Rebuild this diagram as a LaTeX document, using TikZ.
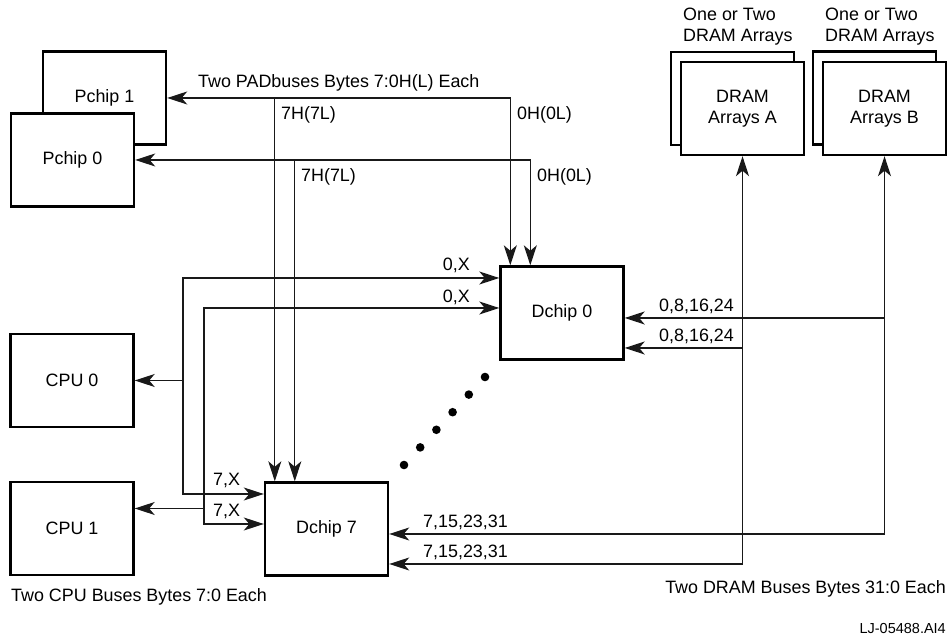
\documentclass[tikz,border=0pt]{standalone}
\usepackage{fontspec}
\setmainfont{Liberation Sans}
\usetikzlibrary{arrows.meta}
\newcommand\busfont{\fontsize{17.9}{21}\selectfont}
\newcommand\tagfont{\fontsize{14.5}{17}\selectfont}

\begin{document}
\begin{tikzpicture}[x=1pt,y=1pt,line join=miter,
  box/.style={draw,line width=2.4pt,fill=white,minimum width=123pt,minimum height=93pt,inner sep=0pt,align=center,font=\busfont},
  bus/.style={draw=black!90,line width=1.2pt},
  onetip/.style={-{Stealth[length=20pt,width=13pt,inset=5.5pt]}},
  twotips/.style={{Stealth[length=20pt,width=13pt,inset=5.5pt]}-{Stealth[length=20pt,width=13pt,inset=5.5pt]}},
  lbl/.style={font=\busfont,inner sep=0pt}]
\useasboundingbox (0,0) rectangle (949,636);
% chips
\node[box] (pchipone) at (104.5,538) {Pchip 1};
\node[box] (pchipzero) at (72.5,476) {Pchip 0};
\node[box] (cpuzero) at (72,255.5) {CPU 0};
\node[box] (cpuone) at (72,107.5) {CPU 1};
\node[box] (dchipzero) at (562,323) {Dchip 0};
\node[box] (dchipseven) at (326.5,107) {Dchip 7};
% DRAM arrays, one behind the other
\node[box] (dramaback) at (732.5,537.5) {};
\node[box] (drama) at (742.5,527.5) {DRAM\\Arrays A};
\node[box] (drambback) at (874.5,538) {};
\node[box] (dramb) at (884.5,527.5) {DRAM\\Arrays B};
% tap points
\coordinate (cpubusa) at (183,0);
\coordinate (cpubusb) at (204,0);
\coordinate (dzerotopa) at ([xshift=11pt]dchipzero.north west);
\coordinate (dzerotopb) at ([xshift=31pt]dchipzero.north west);
\coordinate (dsevtopa) at ([xshift=11pt]dchipseven.north west);
\coordinate (dsevtopb) at ([xshift=31pt]dchipseven.north west);
\coordinate (dzeroxa) at ([yshift=35pt]dchipzero.west);
\coordinate (dzeroxb) at ([yshift=5pt]dchipzero.west);
\coordinate (dsevxa) at ([yshift=35pt]dchipseven.west);
\coordinate (dsevxb) at ([yshift=5pt]dchipseven.west);
\coordinate (cpuonein) at ([yshift=20pt]cpuone.east);
\coordinate (dzerodb) at ([yshift=-5pt]dchipzero.east);
\coordinate (dzeroda) at ([yshift=-35pt]dchipzero.east);
\coordinate (dsevdb) at ([yshift=-5pt]dchipseven.east);
\coordinate (dsevda) at ([yshift=-35pt]dchipseven.east);
% PAD buses
\draw[bus,twotips] (pchipone.east) -| (dzerotopa);
\draw[bus,onetip] (dsevtopa |- pchipone.east) -- (dsevtopa);
\draw[bus,twotips] (pchipzero.east) -| (dzerotopb);
\draw[bus,onetip] (dsevtopb |- pchipzero.east) -- (dsevtopb);
% CPU buses
\draw[bus,twotips] (dzeroxa) -| (cpubusa |- dsevxa) -- (dsevxa);
\draw[bus,onetip] (cpubusa |- cpuzero.east) -- (cpuzero.east);
\draw[bus,twotips] (dzeroxb) -| (cpubusb |- dsevxb) -- (dsevxb);
\draw[bus,onetip] (cpubusb |- cpuonein) -- (cpuonein);
% DRAM buses
\draw[bus,twotips] (dsevdb) -| (dramb.south);
\draw[bus,onetip] (dramb.south |- dzerodb) -- (dzerodb);
\draw[bus,twotips] (dsevda) -| (drama.south);
\draw[bus,onetip] (drama.south |- dzeroda) -- (dzeroda);
% Dchip 1 to 6
\foreach \k in {0,...,5}
  \fill ({404+16.2*\k},{171+17.6*\k}) circle (4.3pt);
% labels
\node[lbl,anchor=west] (padtitle) at (198,553) {Two PADbuses Bytes 7:0H(L) Each};
\node[lbl,anchor=west] (sevenha) at (281,521) {7H(7L)};
\node[lbl,anchor=west] (sevenhb) at (301,459) {7H(7L)};
\node[lbl,anchor=west] (zeroha) at (517,521) {0H(0L)};
\node[lbl,anchor=west] (zerohb) at (537,459) {0H(0L)};
\node[lbl,anchor=east] (zeroxa) at (470,371) {0,X};
\node[lbl,anchor=east] (zeroxb) at (470,339) {0,X};
\node[lbl,anchor=west] (sevenxa) at (213,156) {7,X};
\node[lbl,anchor=west] (sevenxb) at (213,125) {7,X};
\node[lbl,anchor=west] (bytesza) at (659,330) {0,8,16,24};
\node[lbl,anchor=west] (byteszb) at (659,300) {0,8,16,24};
\node[lbl,anchor=west] (bytessa) at (423,114) {7,15,23,31};
\node[lbl,anchor=west] (bytessb) at (423,84) {7,15,23,31};
\node[lbl,anchor=west,align=left] (dramacap) at (683,609.5) {One or Two\\DRAM Arrays};
\node[lbl,anchor=west,align=left] (drambcap) at (825,609.5) {One or Two\\DRAM Arrays};
\node[lbl,anchor=west] (cpucap) at (11,39) {Two CPU Buses Bytes 7:0 Each};
\node[lbl,anchor=east] (dramcap) at (946,47) {Two DRAM Buses Bytes 31:0 Each};
\node[lbl,anchor=east,font=\tagfont] (figtag) at (946,7) {LJ-05488.AI4};
\end{tikzpicture}
\end{document}
